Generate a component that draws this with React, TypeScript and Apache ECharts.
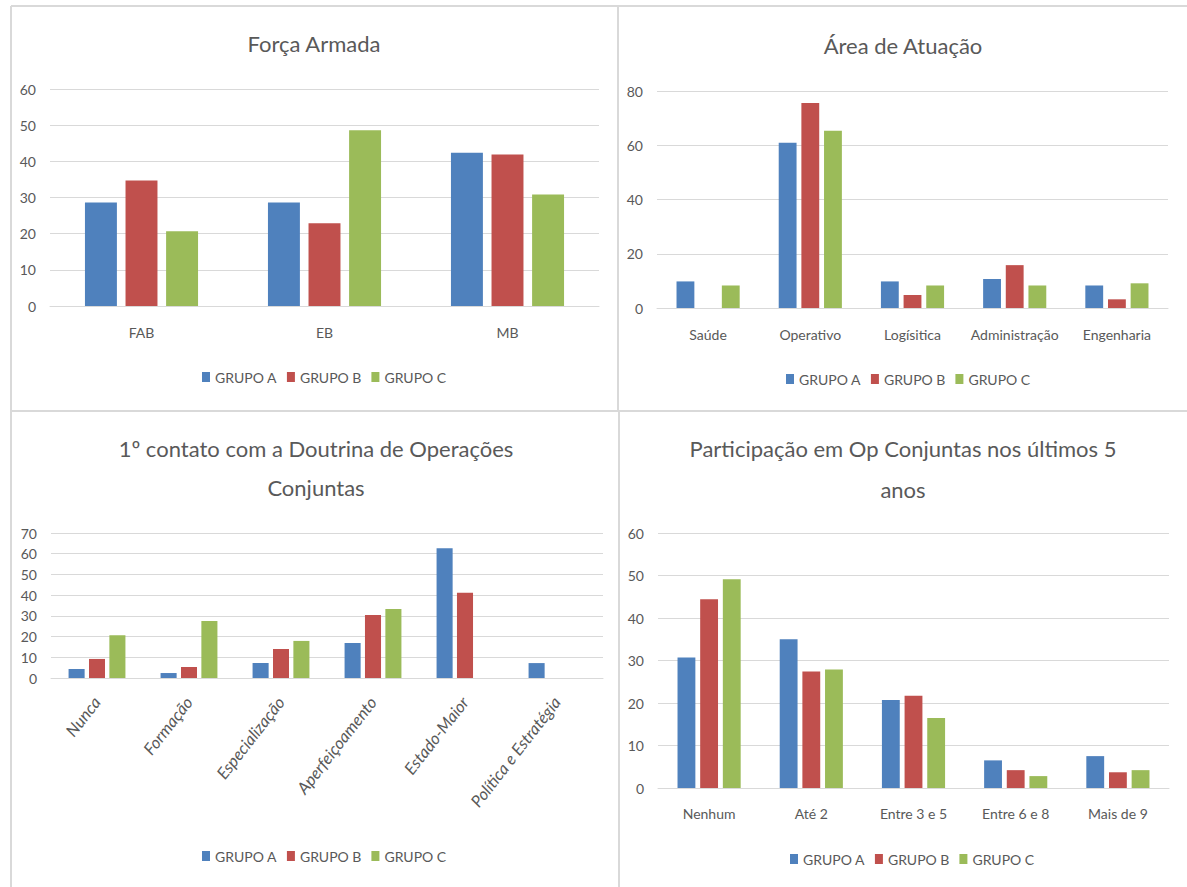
import React, { useEffect, useRef } from "react";
import * as echarts from "echarts";

const groups = ["GRUPO A", "GRUPO B", "GRUPO C"];
const colors = ["#4f81bd", "#c0504d", "#9bbb59"];

const forcaCats = ["FAB", "EB", "MB"];
const forcaA = [28.6, 28.6, 42.4];
const forcaB = [34.7, 22.9, 41.9];
const forcaC = [20.7, 48.6, 30.8];
const forcaTicks = { min: 0, max: 60, interval: 10 };

const areaCats = ["Saúde", "Operativo", "Logísitica", "Administração", "Engenharia"];
const areaA = [9.8, 60.9, 9.8, 10.7, 8.3];
const areaB = [0, 75.6, 4.8, 15.8, 3.2];
const areaC = [8.3, 65.3, 8.3, 8.3, 9.1];
const areaTicks = { min: 0, max: 80, interval: 20 };

const contatoCats = ["Nunca", "Formação", "Especialização", "Aperfeiçoamento", "Estado-Maior", "Política e Estratégia"];
const contatoA = [4.3, 2.4, 7.2, 16.9, 62.6, 7.2];
const contatoB = [9.2, 5.3, 14.0, 30.4, 41.2, 0];
const contatoC = [20.6, 27.5, 17.9, 33.3, 0, 0];
const contatoTicks = { min: 0, max: 70, interval: 10 };

const partCats = ["Nenhum", "Até 2", "Entre 3 e 5", "Entre 6 e 8", "Mais de 9"];
const partA = [30.7, 35.0, 20.7, 6.5, 7.5];
const partB = [44.4, 27.4, 21.7, 4.2, 3.7];
const partC = [49.1, 27.9, 16.5, 2.8, 4.2];
const partTicks = { min: 0, max: 60, interval: 10 };

const FONT = "Lato";
const TEXT = "#595959";
const GRIDLINE = "#d9d9d9";

const panels = [
  {
    title: "Força Armada",
    titleX: 314, titleTop: 28, lineHeight: 30,
    grid: { left: 50, top: 89, width: 549, height: 217 },
    cats: forcaCats, values: [forcaA, forcaB, forcaC], ticks: forcaTicks,
    legend: { left: 202, top: 370 }, rotate: 0, labelMargin: 19,
  },
  {
    title: "Área de Atuação",
    titleX: 903, titleTop: 30, lineHeight: 30,
    grid: { left: 657, top: 91, width: 511, height: 217 },
    cats: areaCats, values: [areaA, areaB, areaC], ticks: areaTicks,
    legend: { left: 786, top: 372 }, rotate: 0, labelMargin: 19,
  },
  {
    title: "1º contato com a Doutrina de Operações\nConjuntas",
    titleX: 316, titleTop: 429, lineHeight: 39,
    grid: { left: 51, top: 533, width: 552, height: 145 },
    cats: contatoCats, values: [contatoA, contatoB, contatoC], ticks: contatoTicks,
    legend: { left: 202, top: 849 }, rotate: 52, labelMargin: 21,
  },
  {
    title: "Participação em Op Conjuntas nos últimos 5\nanos",
    titleX: 903, titleTop: 428, lineHeight: 41,
    grid: { left: 658, top: 533, width: 511, height: 255 },
    cats: partCats, values: [partA, partB, partC], ticks: partTicks,
    legend: { left: 790, top: 852 }, rotate: 0, labelMargin: 18,
  },
];

export default function App() {
  const ref = useRef<HTMLDivElement>(null);
  useEffect(() => {
    if (!ref.current) return;
    const chart = echarts.init(ref.current, undefined, { renderer: "svg" });
    const title: any[] = [];
    const grid: any[] = [];
    const xAxis: any[] = [];
    const yAxis: any[] = [];
    const legend: any[] = [];
    const series: any[] = [];
    panels.forEach((p, i) => {
      title.push({
        text: p.title,
        left: p.titleX,
        top: p.titleTop,
        textAlign: "center",
        padding: 0,
        textStyle: { fontFamily: FONT, fontSize: 22, fontWeight: "normal", color: TEXT, lineHeight: p.lineHeight },
      });
      grid.push({ ...p.grid, containLabel: false });
      xAxis.push({
        type: "category",
        gridIndex: i,
        data: p.cats,
        axisLine: { show: true, lineStyle: { color: GRIDLINE, width: 1 } },
        axisTick: { show: false },
        axisLabel: {
          interval: 0,
          rotate: p.rotate,
          margin: p.labelMargin,
          fontFamily: FONT,
          fontSize: p.rotate ? 16.5 : 14,
          fontStyle: p.rotate ? "italic" : "normal",
          color: TEXT,
        },
      });
      yAxis.push({
        type: "value",
        gridIndex: i,
        min: p.ticks.min,
        max: p.ticks.max,
        interval: p.ticks.interval,
        axisLine: { show: false },
        axisTick: { show: false },
        splitLine: { show: true, lineStyle: { color: GRIDLINE, width: 1 } },
        axisLabel: { margin: 14, fontFamily: FONT, fontSize: 14, color: TEXT },
      });
      legend.push({
        data: groups,
        left: p.legend.left,
        top: p.legend.top,
        padding: 0,
        icon: "rect",
        itemWidth: 8,
        itemHeight: 10,
        itemGap: 10,
        selectedMode: false,
        textStyle: { fontFamily: FONT, fontSize: 14, color: TEXT },
      });
      p.values.forEach((vals, s) => {
        series.push({
          type: "bar",
          name: groups[s],
          xAxisIndex: i,
          yAxisIndex: i,
          data: vals,
          barGap: "27%",
          barCategoryGap: "38.2%",
          itemStyle: { color: colors[s] },
        });
      });
    });

    const line = (x1: number, y1: number, x2: number, y2: number) => ({
      type: "line",
      silent: true,
      z: -1,
      shape: { x1, y1, x2, y2 },
      style: { stroke: GRIDLINE, lineWidth: 2 },
    });

    chart.setOption({
      animation: false,
      color: colors,
      textStyle: { fontFamily: FONT },
      title,
      grid,
      xAxis,
      yAxis,
      legend,
      series,
      graphic: [
        line(11, 6, 1187, 6),
        line(11, 6, 11, 887),
        line(618, 6, 618, 411),
        line(619, 411, 619, 887),
        line(11, 411, 1187, 411),
      ],
    });
    return () => chart.dispose();
  }, []);
  return (
    <div
      ref={ref}
      style={{ position: "absolute", left: 0, top: 0, width: 1187, height: 887, background: "#ffffff" }}
    />
  );
}
